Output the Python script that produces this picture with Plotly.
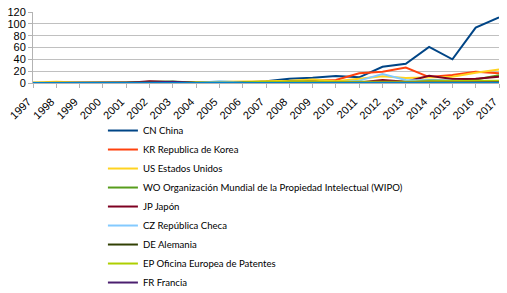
import plotly.graph_objects as go

years = [str(y) for y in range(1997, 2018)]

cn = [0.5, 0.5, 0.5, 0.5, 0.5, 1, 1, 0.5, 1, 1, 3, 7, 9, 12, 9.6, 27.5, 32.6, 61, 40, 93.6, 111]
kr = [0, 0, 0, 0, 0, 0, 0.5, 0, 0.5, 1, 2, 3, 3, 5, 16.5, 19, 26, 10, 13.5, 19, 16.4]
us = [1, 2, 1, 1, 0.5, 1, 1, 1, 2, 2, 3, 4, 6, 3, 6.8, 11.5, 8.5, 9, 10.7, 17.5, 23]
wo = [0, 0, 0, 0, 0, 2, 2.5, 0.5, 1, 1, 1, 2, 2, 1, 1, 3, 2, 5, 4, 6, 13]
jp = [0, 0, 0, 0, 0, 3, 1.5, 0, 0, 0, 0, 0.5, 0.5, 0.5, 1, 5, 2.2, 12.3, 6.8, 7, 10.7]
cz = [0, 0, 0, 0, 0, 0, 0, 0, 3, 1, 0.5, 0.5, 1, 1, 4, 15, 5, 5, 4, 3, 2]
de = [0, 0, 0, 0, 0, 1, 1, 0, 1, 1, 1, 2, 2, 1, 1, 2, 1, 3, 2, 2, 3]
ep = [0, 0, 0, 0, 0, 1, 1, 0.5, 1, 1, 2, 2, 2, 1, 1, 2, 2, 3, 3, 3, 4]
fr = [0, 0, 0, 0, 0, 1, 2, 0, 0, 0, 0, 0.5, 0.5, 0, 0, 0.5, 0.5, 1, 1, 1, 1]
otros = [0] * 21

names = ["CN China", "KR Republica de Korea", "US Estados Unidos",
         "WO Organización Mundial de la Propiedad Intelectual (WIPO)", "JP Japón",
         "CZ República Checa", "DE Alemania", "EP Oficina Europea de Patentes", "FR Francia"]
series = [cn, kr, us, wo, jp, cz, de, ep, fr]
colors = ["#004586", "#ff420e", "#ffd320", "#579d1c", "#7e0021", "#83caff",
          "#314004", "#aecf00", "#4b1f6f"]

fig = go.Figure()
for n, s, c in zip(names, series, colors):
    fig.add_trace(go.Scatter(x=years, y=s, name=n, mode="lines",
                             line=dict(color=c, width=2)))
fig.add_trace(go.Scatter(x=years, y=otros, name="Otros", mode="lines",
                         line=dict(color="#0084d1", width=2), showlegend=False))

fig.update_layout(
    width=507, height=293,
    margin=dict(l=33, r=8, t=12, b=210, autoexpand=False),
    paper_bgcolor="white", plot_bgcolor="white",
    font=dict(family="Liberation Sans, Arial, sans-serif", size=11, color="black"),
    showlegend=True,
    legend=dict(x=0.203, y=0.604, xref="container", yref="container",
                xanchor="left", yanchor="top", maxheight=400,
                font=dict(family="Lato, sans-serif", size=9.6, color="black"),
                bgcolor="rgba(0,0,0,0)", tracegroupgap=0, itemwidth=30),
    xaxis=dict(type="category", tickangle=-45, showgrid=False, automargin=False,
               showline=True, linecolor="#b3b3b3", ticks="outside",
               ticklen=4, tickcolor="#b3b3b3", range=[0, 20],
               ticklabelshift=-5, ticklabelstandoff=3, tickfont=dict(size=11)),
    yaxis=dict(range=[0, 120], dtick=20, showgrid=True, gridcolor="#c0c0c0",
               automargin=False,
               showline=True, linecolor="#b3b3b3", ticks="outside", ticklen=4,
               tickcolor="#b3b3b3", zeroline=False, tickfont=dict(size=11)),
)

fig.write_html("out.html", config={"displayModeBar": False},
               post_script="document.body.style.margin='0';document.body.style.overflow='hidden';")
